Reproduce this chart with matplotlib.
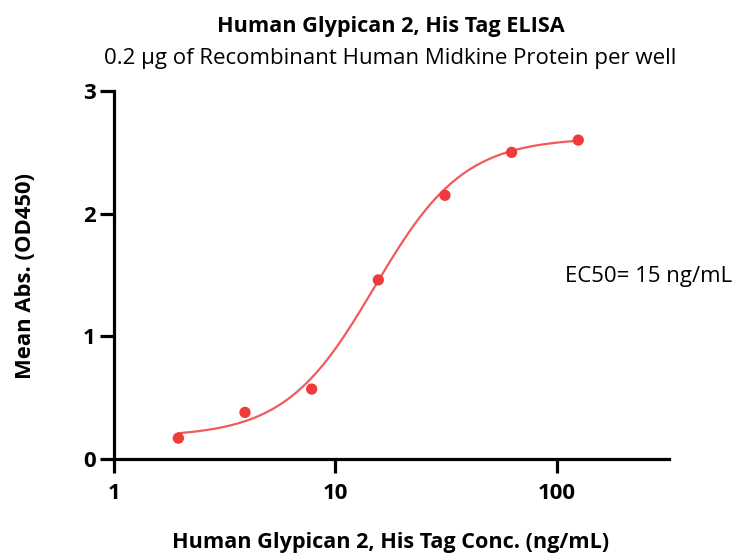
import numpy as np
import matplotlib
matplotlib.use("Agg")
import matplotlib.pyplot as plt

# Data
conc = [1.953, 3.906, 7.813, 15.625, 31.25, 62.5, 125.0]
absorbance = [0.17, 0.38, 0.57, 1.46, 2.15, 2.50, 2.60]
# 4PL fit parameters
fit_bottom, fit_top, fit_ec50, fit_hill = 0.18, 2.62, 15.0, 2.15
xticks = [1, 10, 100]
yticks = [0, 1, 2, 3]

plt.rcParams['font.family'] = ['Open Sans', 'DejaVu Sans']

fig = plt.figure(figsize=(7.34, 5.55), dpi=100)
ax = fig.add_axes([0.1553, 0.173, 0.9114 - 0.1553, 0.836 - 0.173])

xs = np.logspace(np.log10(conc[0]), np.log10(conc[-1]), 300)
ys = fit_bottom + (fit_top - fit_bottom) / (1 + (fit_ec50 / xs) ** fit_hill)
ax.plot(xs, ys, color='#F25A5A', lw=1.6, zorder=2)
ax.scatter(conc, absorbance, s=66, color='#F03A3A', zorder=3, edgecolors='none')

ax.set_xscale('log')
ax.set_xlim(1, 321)
ax.set_ylim(0, 3)
ax.set_xticks(xticks)
ax.set_xticklabels([str(t) for t in xticks])
ax.set_yticks(yticks)
ax.set_yticklabels([str(t) for t in yticks])
ax.xaxis.set_minor_locator(matplotlib.ticker.NullLocator())

for s in ['top', 'right']:
    ax.spines[s].set_visible(False)
for s in ['left', 'bottom']:
    ax.spines[s].set_linewidth(2.3)
ax.tick_params(axis='both', length=10, width=2.3, labelsize=16)
ax.tick_params(axis='x', pad=7)
ax.tick_params(axis='y', pad=3)
for lab in ax.get_xticklabels() + ax.get_yticklabels():
    lab.set_fontweight('bold')

fig.text(0.532, 0.013, 'Human Glypican 2, His Tag Conc. (ng/mL)', ha='center', va='baseline',
         fontsize=15.6, fontweight='bold')
fig.text(0.035, 0.502, 'Mean Abs. (OD450)', ha='center', va='center', rotation=90,
         fontsize=15.8, fontweight='bold')

fig.text(0.532, 0.942, 'Human Glypican 2, His Tag ELISA', ha='center', va='baseline',
         fontsize=15.6, fontweight='bold')
fig.text(0.531, 0.885, '0.2 µg of Recombinant Human Midkine Protein per well', ha='center',
         va='baseline', fontsize=16)
fig.text(0.770, 0.492, 'EC50= 15 ng/mL', ha='left', va='baseline', fontsize=16)

fig.savefig('out.png', dpi=100)
